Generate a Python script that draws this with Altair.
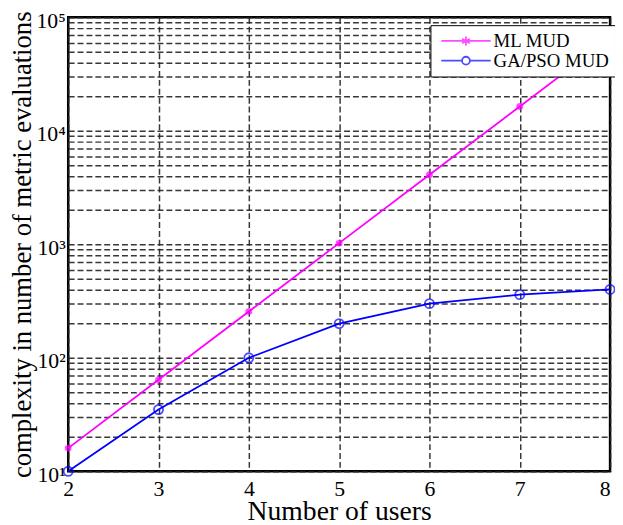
import altair as alt
import pandas as pd

users = [2, 3, 4, 5, 6, 7, 8]
ml_mud = [16, 64, 256, 1024, 4096, 16384, 65536]
ga_pso_mud = [10, 35, 100, 200, 300, 360, 400]
series_names = ["ML MUD", "GA/PSO MUD"]
series_colors = ["#ff00ff", "#0000ff"]
y_grid = [m * d for d in [10, 100, 1000, 10000] for m in range(1, 10)] + [100000]

df = pd.DataFrame({
    "users": users * 2,
    "value": ml_mud + ga_pso_mud,
    "series": [series_names[0]] * len(users) + [series_names[1]] * len(users),
})

STAR = "M0,-1L0,1M-0.87,-0.5L0.87,0.5M-0.87,0.5L0.87,-0.5"
# legend symbols: line with marker, drawn wider than the layout box
LEG_STAR = ("M-0.556,0L5,0M2.222,-0.5L2.222,0.5M1.789,-0.25L2.655,0.25"
            "M1.789,0.25L2.655,-0.25")
LEG_CIRC = ("M-0.556,0L1.778,0M2.666,0L5,0M2.666,0A0.444,0.444 0 1 1 1.778,0"
            "A0.444,0.444 0 1 1 2.666,0")

FONT = "Liberation Serif"

xscale = alt.Scale(domain=[2, 8], nice=False, zero=False)
yscale = alt.Scale(type="log", domain=[10, 100000], nice=False)
cscale = alt.Scale(domain=series_names, range=series_colors)
sscale = alt.Scale(domain=series_names, range=[LEG_STAR, LEG_CIRC])

label_expr = ("datum.value==10?'10¹':datum.value==100?'10²':datum.value==1000?'10³':"
              "datum.value==10000?'10⁴':datum.value==100000?'10⁵':''")

x_enc = alt.X("users:Q", scale=xscale,
              axis=alt.Axis(title="Number of users", values=users, format="d",
                            grid=True, ticks=False, domain=False,
                            labelFontSize=22, titleFontSize=28, labelPadding=8,
                            titlePadding=-2, labelFlush=False,
                            labelAlign=alt.expr("datum.value == 8 ? 'right' : 'center'")))
y_enc = alt.Y("value:Q", scale=yscale,
              axis=alt.Axis(title="complexity in number of metric evaluations",
                            values=y_grid, labelExpr=label_expr, grid=True,
                            ticks=False, domain=False, labelFontSize=22,
                            titleFontSize=27, labelPadding=3, titlePadding=0,
                            labelFlush=False, labelOverlap=False, labelOffset=3))

legend = alt.Legend(
    title=None, orient="none", legendX=367, legendY=8,
    labelFont=FONT, labelFontSize=19, labelColor="black", labelOffset=38,
    strokeColor="black", fillColor="white", padding=6,
    symbolSize=324, symbolStrokeWidth=1.8, symbolFillColor="transparent",
    rowPadding=0,
)

lines = alt.Chart(df).mark_line(strokeWidth=1.8).encode(
    x=x_enc, y=y_enc,
    color=alt.Color("series:N", scale=cscale, legend=legend),
)

legend_layer = alt.Chart(df).transform_filter("false").mark_point(
    filled=False, strokeWidth=1.8
).encode(
    x="users:Q", y="value:Q",
    color=alt.Color("series:N", scale=cscale, legend=legend),
    shape=alt.Shape("series:N", scale=sscale, legend=legend),
)

stars = alt.Chart(df).transform_filter(alt.datum.series == "ML MUD").mark_point(
    shape=STAR, size=50, strokeWidth=2.8, filled=False, color="#ff00ff"
).encode(x="users:Q", y="value:Q")

circles = alt.Chart(df).transform_filter(alt.datum.series == "GA/PSO MUD").mark_point(
    shape="circle", size=85, strokeWidth=1.8, filled=False, color="#0000ff"
).encode(x="users:Q", y="value:Q")

chart = alt.layer(lines, stars, circles, legend_layer).properties(
    width=549, height=460, background="white",
    autosize=alt.AutoSizeParams(type="none"),
    padding={"left": 61, "top": 6, "right": 5, "bottom": 50},
).configure_view(
    stroke="black", strokeWidth=2.5
).configure_axis(
    gridColor="#222222", gridWidth=1.5, gridDash=[6, 3], gridOpacity=0.9,
    labelFont=FONT, titleFont=FONT, labelColor="black", titleColor="black",
    titleFontWeight="normal",
)

chart.save("out.html", embed_options={"renderer": "svg", "actions": False})
